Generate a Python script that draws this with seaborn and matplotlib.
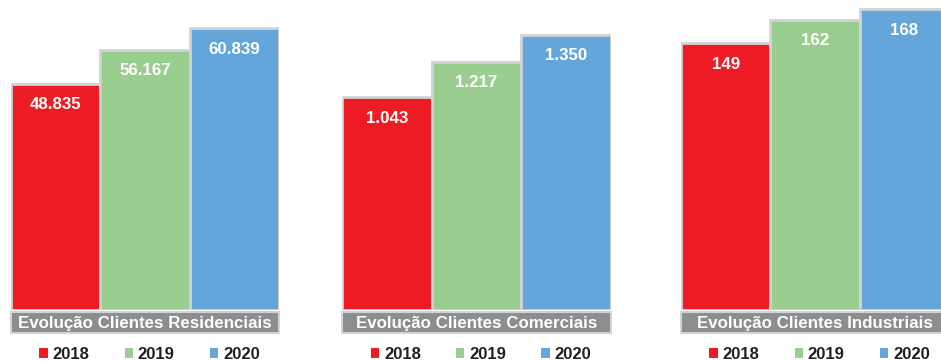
import matplotlib
matplotlib.use("Agg")
import matplotlib.pyplot as plt
from matplotlib.patches import Rectangle, Patch
import seaborn as sns

# ---- data ----
years = ["2018", "2019", "2020"]
residenciais = [48835, 56167, 60839]
comerciais = [1043, 1217, 1350]
industriais = [149, 162, 168]
titles = ["Evolução Clientes Residenciais", "Evolução Clientes Comerciais",
          "Evolução Clientes Industriais"]

colors = ["#ED1C24", "#9ACD90", "#64A6DA"]
border = "#D1D3D4"
band_color = "#8C8D8F"

sns.set_style("white")
plt.rcParams["font.family"] = ["Liberation Sans", "DejaVu Sans"]

fig = plt.figure(figsize=(9.41, 3.61), dpi=100)
fig.patch.set_facecolor("white")

W, H = 941.0, 361.0
# (left px, width px, ymax)
panels = [
    (11, 268, 66900, residenciais, titles[0]),
    (342, 269, 1520, comerciais, titles[1]),
    (681, 268, 173, industriais, titles[2]),
]

def fmt(v):
    return f"{v:,}".replace(",", ".")

for left, width, ymax, vals, title in panels:
    ax = fig.add_axes([left / W, 51 / H, width / W, 310 / H])
    sns.barplot(x=years, y=vals, hue=years, palette=colors, width=1.0,
                edgecolor=border, linewidth=2, legend=False, ax=ax,
                saturation=1)
    ax.set_xlim(-0.5, 2.5)
    ax.set_ylim(0, ymax)
    ax.set_axis_off()
    for i, v in enumerate(vals):
        ax.annotate(fmt(v), (i, v), xytext=(0, -18.5), textcoords="offset points",
                    ha="center", va="baseline", color="white",
                    fontsize=12.2, fontweight="bold")
    # title band
    band = Rectangle((0, -23 / 310), 1, 21 / 310, transform=ax.transAxes,
                     facecolor=band_color, edgecolor=border, linewidth=1.5,
                     clip_on=False)
    ax.add_patch(band)
    ax.text(0.5, -18 / 310, title, transform=ax.transAxes, ha="center",
            va="baseline", color="white", fontsize=12.2, fontweight="bold")
    handles = [Patch(facecolor=c, edgecolor="none") for c in colors]
    ax.legend(handles, years, loc="center", bbox_to_anchor=(0.517, -44.5 / 310),
              ncol=3, frameon=False, handlelength=0.5, handleheight=0.5,
              handletextpad=0.3, columnspacing=2.1, borderpad=0,
              prop={"weight": "bold", "size": 12})
    for t in ax.get_legend().get_texts():
        t.set_color("#231F20")

fig.savefig("out.png", dpi=100, facecolor="white")
